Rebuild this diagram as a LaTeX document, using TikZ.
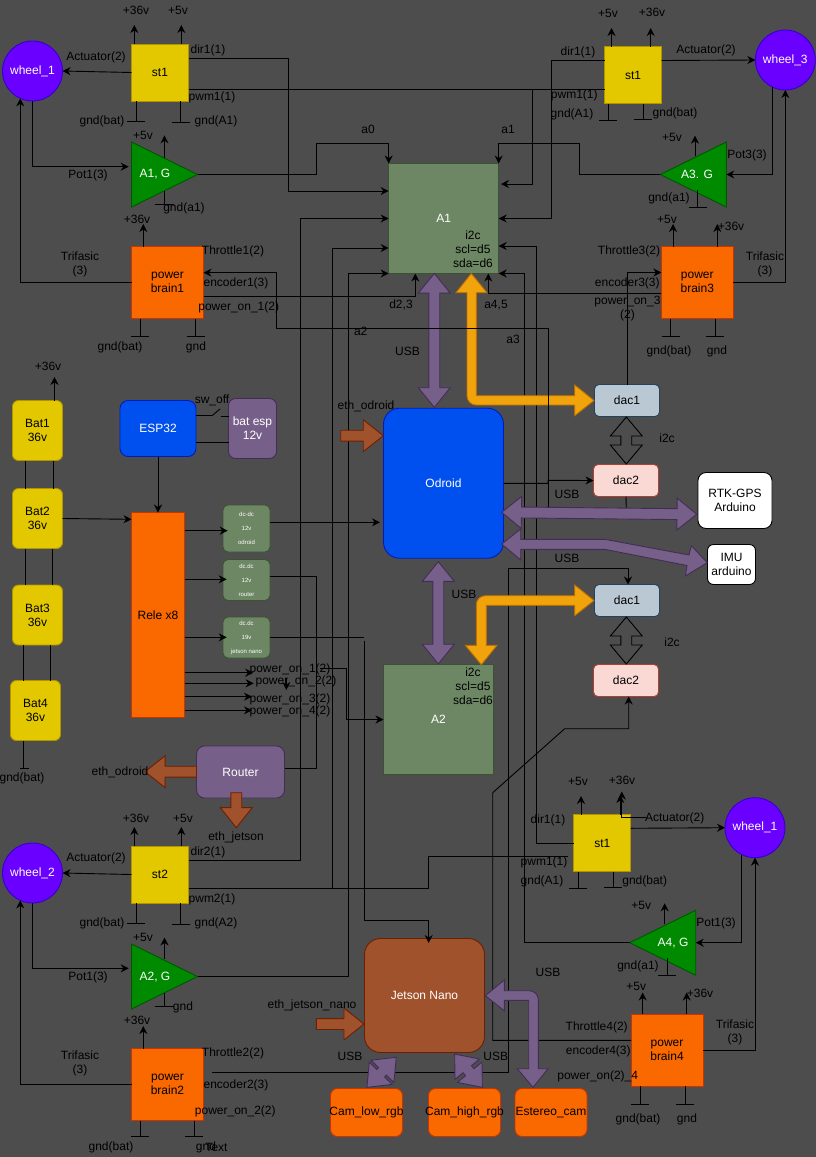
\documentclass[tikz,border=0pt]{standalone}
\usepackage{fontspec}
\setmainfont{Liberation Sans}
\usetikzlibrary{arrows.meta,shapes.geometric,shapes.arrows}
\definecolor{bgcol}{HTML}{4D4D4D}
\definecolor{wheelcol}{HTML}{6A00FF}
\definecolor{wheeledge}{HTML}{3700CC}
\definecolor{yelcol}{HTML}{E3C800}
\definecolor{yeledge}{HTML}{B09500}
\definecolor{grncol}{HTML}{008A00}
\definecolor{grnedge}{HTML}{005700}
\definecolor{orgcol}{HTML}{FA6800}
\definecolor{orgedge}{HTML}{C73500}
\definecolor{sagecol}{HTML}{6D8764}
\definecolor{sageedge}{HTML}{3A5431}
\definecolor{blucol}{HTML}{0050EF}
\definecolor{bluedge}{HTML}{001DBC}
\definecolor{purcol}{HTML}{76608A}
\definecolor{puredge}{HTML}{432D57}
\definecolor{brncol}{HTML}{A0522D}
\definecolor{brnedge}{HTML}{6D1F00}
\definecolor{dacacol}{HTML}{BAC8D3}
\definecolor{dacaedge}{HTML}{23445D}
\definecolor{dacbcol}{HTML}{FAD9D5}
\definecolor{dacbedge}{HTML}{AE4132}
\definecolor{ambcol}{HTML}{F0A30A}
\definecolor{ambedge}{HTML}{BD7000}
\tikzset{
  every node/.style={font=\fontsize{12}{14}\selectfont, inner sep=0pt, outer sep=0pt, align=center},
  wheel/.style={circle, draw=wheeledge, fill=wheelcol, text=white, minimum size=60pt},
  drvbox/.style={draw=yeledge, fill=yelcol, minimum size=57pt},
  pbbox/.style={draw=orgedge, fill=orgcol, minimum size=72pt},
  ampshape/.style={isosceles triangle, isosceles triangle stretches, draw=grnedge, fill=grncol,
    minimum width=65pt, minimum height=66pt, anchor=lower side},
  ctlbox/.style={draw=sageedge, fill=sagecol, text=white, minimum width=110pt, minimum height=110pt},
  batbox/.style={draw=yeledge, fill=yelcol, rounded corners=6pt, minimum width=50pt, minimum height=60pt},
  dcbox/.style={draw=sageedge, fill=sagecol, text=white, rounded corners=5pt, minimum width=47pt,
    font=\fontsize{6}{14}\selectfont},
  bluebox/.style={draw=bluedge, fill=blucol, text=white},
  purbox/.style={draw=puredge, fill=purcol, text=white},
  camsbox/.style={draw=orgedge, fill=orgcol, rounded corners=7pt, minimum width=72pt, minimum height=48pt},
  dacabox/.style={draw=dacaedge, fill=dacacol, rounded corners=4.5pt, minimum width=65pt, minimum height=32pt},
  dacbbox/.style={draw=dacbedge, fill=dacbcol, rounded corners=4.5pt, minimum width=65pt, minimum height=32pt},
  usbarrow/.style={double arrow, draw=puredge, fill=purcol, minimum width=31pt, inner ysep=5pt,
    double arrow head extend=10.5pt, double arrow tip angle=78},
  i2carrow/.style={double arrow, draw=black, minimum width=31pt, inner ysep=5pt,
    double arrow head extend=10.5pt, double arrow tip angle=80, minimum height=47pt},
  etharrow/.style={single arrow, draw=brnedge, fill=brncol, minimum width=31pt, inner ysep=5pt,
    single arrow head extend=10.5pt, single arrow tip angle=77, anchor=tip},
  usbshape/.style={draw=puredge, fill=purcol},
  ambshape/.style={draw=ambedge, fill=ambcol}
}
\begin{document}
\begin{tikzpicture}[x=1pt, y=-1pt, line width=.9pt, >={Stealth[length=8pt,width=8pt]}]
\useasboundingbox (0,0) rectangle (816,1157);
\fill[bgcol] (0,0) rectangle (816,1157);
% boxes
\node[wheel] (wheelA) at (32.5,71) {wheel\_1};
\node[wheel] (wheelB) at (785.3,60) {wheel\_3};
\node[wheel] (wheelC) at (32.5,873) {wheel\_2};
\node[wheel] (wheelD) at (755,827.7) {wheel\_1};
\node[drvbox] (drvA) at (160,72.5) {st1};
\node[drvbox] (drvB) at (633,75) {st1};
\node[drvbox] (drvC) at (160,874.5) {st2};
\node[drvbox] (drvD) at (602.3,843) {st1};
\node[ampshape] (ampA) at (131.5,174.5) {};
\node[ampshape, shape border rotate=180] (ampB) at (726.3,174.5) {};
\node[ampshape] (ampC) at (131.5,976.5) {};
\node[ampshape, shape border rotate=180] (ampD) at (695.7,942.7) {};
\node[pbbox] (pbA) at (167.5,282.5) {power\\brain1};
\node[pbbox] (pbB) at (697.3,282.5) {power\\brain3};
\node[pbbox] (pbC) at (167.5,1084.5) {power\\brain2};
\node[pbbox] (pbD) at (667,1050.3) {power\\brain4};
\node[ctlbox] (ctlA) at (443.7,218.5) {A1};
\node[ctlbox] (ctlB) at (438.5,719.5) {A2};
\node[bluebox, rounded corners=16pt, minimum width=120pt, minimum height=150pt] (odroid) at (443.5,483.2) {Odroid};
\node[draw=brnedge, fill=brncol, text=white, rounded corners=16pt, minimum width=120pt, minimum height=114pt] (jetson) at (424.5,995.5) {Jetson Nano};
\foreach \n/\x/\y/\t in {batA/37.5/430.5/Bat1, batB/37.5/518.5/Bat2, batC/37.5/615/Bat3, batD/35.5/710.5/Bat4}
  \node[batbox] (\n) at (\x,\y) {\t\\36v};
\node[bluebox, rounded corners=8pt, minimum width=76pt, minimum height=56pt] (esp) at (158,428.5) {ESP32};
\node[purbox, rounded corners=7pt, minimum width=48pt, minimum height=60pt] (batesp) at (252.5,428.5) {bat esp\\12v};
\node[draw=orgedge, fill=orgcol, minimum width=53pt, minimum height=205pt] (rele) at (158,615) {Rele x8};
\node[dcbox, minimum height=47pt] (dcA) at (246.5,528.5) {dc-dc\\12v\\odroid};
\node[dcbox, minimum height=41pt] (dcB) at (246.5,580) {dc.dc\\12v\\router};
\node[dcbox, minimum height=41pt] (dcC) at (246.5,637.5) {dc.dc\\19v\\jetson nano};
\node[purbox, rounded corners=8pt, minimum width=88pt, minimum height=52pt] (router) at (240.5,772) {Router};
\node[dacabox] (dacA) at (627,400.5) {dac1};
\node[dacbbox] (dacB) at (626,480.5) {dac2};
\node[dacabox] (dacC) at (627,600.5) {dac1};
\node[dacbbox] (dacD) at (626,680.5) {dac2};
\node[draw=black, fill=white, rounded corners=8pt, minimum width=74pt, minimum height=56pt] (rtk) at (735,500.5) {RTK-GPS\\Arduino};
\node[draw=black, fill=white, rounded corners=6pt, minimum width=48pt, minimum height=40pt] (imu) at (731.5,564.5) {IMU\\arduino};
\node[camsbox] (camA) at (366.5,1112.5) {\makebox[0pt]{Cam\_low\_rgb}};
\node[camsbox] (camB) at (464.5,1112.5) {\makebox[0pt]{Cam\_high\_rgb}};
\node[camsbox] (camC) at (551,1112.5) {\makebox[0pt]{Estereo\_cam}};
\foreach \n/\x/\y/\t in {ampAt/155/174.5/{A1, G}, ampBt/697/174.5/{A3. G}, ampCt/155/976.7/{A2, G}, ampDt/673/942.7/{A4, G}}
  \node[text=white] (\n) at (\x,\y) {\t};
% supply arrows
\foreach \x/\p/\y in {134.3/drvA/25, 181.3/drvA/25, 611.5/drvB/28, 650.7/drvB/28, 134.3/drvC/827, 181.3/drvC/827,
  581/drvD/796, 620.3/drvD/795, 143.3/pbA/224, 673/pbB/224, 717.3/pbB/224, 143.3/pbC/1026, 642.7/pbD/992.5, 686.7/pbD/992.5, 54.5/batA/377}
  \draw[->] (\x,0 |- \p.north) -- (\x,\y);
\draw[->] (164.5,158) -- (164.5,135.3);
\draw[->] (695,156) -- (695,135.7);
\draw[->] (164.5,959) -- (164.5,937.5);
\draw[->] (664.7,924.3) -- (664.7,903.3);
\draw[->] (645.7,817) -| (621.8,791.5);
% ground
\foreach \x/\p/\y in {136.3/drvA/121.3, 180.5/drvA/122, 608.3/drvB/120.3, 643.3/drvB/119.7, 136.3/drvC/923.3, 180.5/drvC/924,
  578/drvD/888.3, 613/drvD/887.7, 140.3/pbA/336.3, 195.7/pbA/336.3, 670.7/pbB/336.3, 715.3/pbB/336.3,
  140.3/pbC/1136.3, 194.3/pbC/1136.3, 640/pbD/1104, 685/pbD/1104}
  \draw (\x,0 |- \p.south) -- (\x,\y) (\x-9,\y) -- (\x+9,\y);
\draw (164.5,191) -- (164.5,204.3) (155.3,204.3) -- (173.5,204.3);
\draw (697,190) -- (697,207.7) (688.5,207.7) -- (706.5,207.7);
\draw (164.5,993) -- (164.5,1006.3) (155.3,1006.3) -- (173.5,1006.3);
\draw (667,958) -- (667,975.5) (658,975.5) -- (676,975.5);
\draw (23,0 |- batD.south) -- (23,768.3) (20.3,768.3) -- (28.7,768.3);
% batteries
\foreach \a/\b/\x/\y in {batA/batB/25/53.3, batB/batC/25/52.3, batC/batD/23.3/50.3}
  {\draw (\x,0 |- \a.south) -- (\x,0 |- \b.north);
   \draw (\y,0 |- \a.south) -- (\y,0 |- \b.north);};
\draw[->] (batB.east) -- (rele.west |- 0,519.3);
\draw[->] (esp.south) -- (rele.north);
\draw (esp.east |- 0,415.5) -- (212.3,415.5) -- (220,409);
\draw (220.7,416.3) -- (batesp.west |- 0,416.3);
\draw (esp.east |- 0,442.3) -- (batesp.west |- 0,442.3);
\foreach \y/\e in {530.7/227.7, 579.3/226.7, 637.3/226.7, 672.7/253.3, 683.3/253.7, 696.7/252, 710.3/252}
  \draw[->] (rele.east |- 0,\y) -- (\e,\y);
\draw[->] (286.3,678) -- (286.3,690);
% top left
\draw[->] (drvA.west) -- (wheelA.east);
\draw[->] (wheelA.south) |- (128.7,166.7);
\draw[->] (pbA.west) -| (wheelA.246);
\draw[->] (ampA.apex) -| (316.3,143.7) -| (ctlA.north west);
\draw[->] (drvA.east |- 0,58.5) -| (288.3,125) |- (ctlA.west |- 0,191);
\draw (drvA.east |- 0,89.5) -- (drvB.west |- 0,89.5);
\draw[->] (532.3,89.5) |- (501,184);
\draw[->] (pbA.east |- 0,296.2) -| (415.3,0 |- ctlA.south);
% top right
\draw[->] (drvB.east |- 0,60.5) -- (wheelB.west);
\draw[->] (wheelB.244) |- (ampB.lower side);
\draw[->] (pbB.east) -| (wheelB.south);
\draw[->] (ampB.apex) -| (579.3,143.7) -| (ctlA.north east);
\draw[->] (drvB.west |- 0,60.5) -| (551.3,100) |- (ctlA.east |- 0,218.5);
\draw[->] (dacA.north) |- (pbB.west |- 0,272.5);
\draw[->] (pbB.west |- 0,293.3) -| (488.3,0 |- ctlA.south);
% long verticals
\draw[->] (ampD.apex) -| (524.5,500) |- (ctlA.south east);
\draw[->] (drvD.west) -| (536.3,500) |- (ctlA.east |- 0,246);
\draw[->] (drvC.east |- 0,860) -| (300.3,500) |- (ctlA.west |- 0,218.5);
\draw (drvC.east |- 0,888.7) -| (428.7,870) |- (567.7,856.3);
\draw[->] (332.5,888.7) |- (ctlA.west |- 0,248);
\draw[->] (ampC.apex) -| (348.5,500) |- (ctlA.south west);
% bottom left
\draw[->] (drvC.west) -- (wheelC.east);
\draw[->] (wheelC.south) |- (128.7,968.3);
\draw[->] (pbC.west) -| (wheelC.246);
% power side
\draw[->] (dcA.east |- 0,522.3) -- (380,522.3);
\draw (dcB.east |- 0,576.3) -| (316.3,700) |- (router.east |- 0,768.3);
\draw (dcC.east |- 0,637.5) -- (364,637.5);
\draw[->] (364.3,640.7) |- (428.7,920.3) -- (428.7,943);
\draw[->] (320,668.3) -| (346.7,700) |- (ctlB.west |- 0,719.5);
% dac lines
\draw[->] (odroid.east |- 0,483.3) -- (548,483.3) -- (548,480.3) -- (dacB.west);
\draw (dacB.south) -- (626.3,510);
\draw[->] (212.3,1072.3) -| (508.7,800) |- (628,568.7) -- (628,0 |- dacC.north);
\draw[->] (pbD.west |- 0,1040.3) -| (492.7,792.7) -- (564.7,728.7) -| (628.7,0 |- dacD.south);
% bottom right
\draw[->] (drvD.east |- 0,828.3) -- (wheelD.west);
\draw[->] (wheelD.244) |- (ampD.lower side);
\draw[->] (pbD.east) -| (wheelD.south);
% thick arrows
\node[usbarrow, rotate=90, minimum height=134pt] (usbA) at (434.3,340.4) {};
\node[usbarrow, rotate=90, minimum height=102.3pt] (usbB) at (438.3,612.8) {};
\node[usbarrow, rotate=45.7, minimum height=42pt] (usbD) at (381.6,1072.3) {};
\node[usbarrow, rotate=-50.3, minimum height=43.3pt] (usbE) at (468.5,1070.7) {};
\node[i2carrow, rotate=90] (i2cA) at (626.3,440.5) {};
\node[i2carrow, rotate=90] (i2cB) at (626.3,640.5) {};
\node[etharrow, minimum height=42.6pt] (ethA) at (383.3,435.7) {};
\node[etharrow, rotate=180, minimum height=51.5pt] (ethB) at (145,771.7) {};
\node[etharrow, rotate=-90, minimum height=35pt] (ethC) at (236.3,827.7) {};
\node[etharrow, minimum height=47.7pt] (ethD) at (364,1024) {};
\draw[ambshape] (471.3,273.5) -- (487,292.7) -- (476.3,292.7) -- (476.3,395.7) -- (574.7,395.7) -- (574.7,385) -- (594,400.5)
  -- (574.7,415.7) -- (574.7,405) [rounded corners=9pt] -- (467,405) [sharp corners] -- (467,292.7) -- (456,292.7) -- cycle;
\draw[ambshape] (594,600.5) -- (574.7,615.7) -- (574.7,605.3) -- (486.3,605.3) -- (486.3,645.3) -- (497,645.3) -- (481.3,664.7)
  -- (465.3,645.3) -- (476.3,645.3) [rounded corners=9pt] -- (476.3,595.7) [sharp corners] -- (574.7,595.7) -- (574.7,585) -- cycle;
% encoder line runs over the amber arrow
\draw[->] (548.3,510) |- (276.3,328.3) |- (pbA.east |- 0,272.7);
\node[usbarrow, rotate=-.6, minimum height=195pt] (usbC) at (599.2,513.3) {};
\draw[usbshape] (501.7,544) -- (520.7,529) -- (520.7,539.3) -- (604.7,539.3) -- (689,555) -- (691.3,545.7) -- (707.3,562.7)
  -- (685.3,576) -- (687,565.5) -- (604.7,549.3) -- (520.7,549.3) -- (520.7,560) -- cycle;
\draw[usbshape] (485.3,995.7) -- (504.3,980) -- (504.3,990.7) [rounded corners=9pt] -- (538.3,990.7) [sharp corners]
  -- (538.3,1068.7) -- (548,1068.7) -- (533,1087.3) -- (517.3,1068.7) -- (528.7,1068.7) -- (528.7,1000.3) -- (504.3,1000.3) -- (504.3,1010.7) -- cycle;
% labels
\foreach \x/\y/\t [count=\i] in {136/10.7/+36v, 178/10.7/+5v, 96/57/Actuator(2), 208/50/dir1(1), 212/97/pwm1(1),
  102/121/gnd(bat), 216/121/gnd(A1), 143/135.7/+5v, 88/175/Pot1(3), 184/208/gnd(a1), 137/219/+36v, 80/264/Trifasic\\(3),
  233/251/Throttle1(2), 236/283/encoder1(3), 238.7/307/power\_on\_1(2), 120/347/gnd(bat), 196/347/gnd,
  368/129/a0, 508/129/a1, 401/305/{d2,3}, 496/305/{a4,5}, 360.7/331/a2, 513/339/a3, 407.5/351/USB,
  473/249/i2c\\scl=d5\\sda=d6, 473/686.7/i2c\\scl=d5\\sda=d6,
  608/13.7/+5v, 652/12.7/+36v, 706/50/Actuator(2), 578/52/dir1(1), 574.3/95/pwm1(1), 572/114/gnd(A1), 675/113/gnd(bat),
  672/137.7/+5v, 747/155/Pot3(3), 669/198/gnd(a1), 667/219/+5v, 731/226/+36v, 629/251/Throttle3(2), 627.3/283/encoder3(3),
  627.5/309/power\_on\_3\\(2), 765/264/Trifasic\\(3), 669/351/gnd(bat), 717/351/gnd,
  48/366.7/+36v, 212/400.7/sw\_off, 366/406.7/eth\_odroid, 22/778.5/gnd(bat), 120/772.7/eth\_odroid,
  290/669/power\_on\_1(2), 296/681/power\_on\_2(2), 290/699/power\_on\_3(2), 290/711/power\_on\_4(2),
  667/438.7/i2c, 672/642.7/i2c, 567/494.3/USB, 567/558.7/USB, 464/594.7/USB,
  236/837.7/eth\_jetson, 136/818.7/+36v, 183/818.7/+5v, 96/858.7/Actuator(2), 208/852/dir2(1), 212/899/pwm2(1),
  102/923/gnd(bat), 216/923/gnd(A2), 143/937.7/+5v, 88/977/Pot1(3), 183/1007/gnd, 137/1020.7/+36v, 80/1063/Trifasic\\(3),
  233/1053/Throttle2(2), 236/1085/encoder2(3), 235.3/1111/power\_on\_2(2), 111/1147/gnd(bat), 206/1147/gnd, 216.5/1147/Text,
  312/1005/eth\_jetson\_nano, 350/1056.7/USB, 495.7/1056.7/USB, 548/972.7/USB,
  578/781.7/+5v, 622/780.7/+36v, 674.7/818/Actuator(2), 548/820/dir1(1), 544/862.7/pwm1(1), 542/881.7/gnd(A1), 644.7/881/gnd(bat),
  641.3/905.7/+5v, 716/923/Pot1(3), 638/966/gnd(a1), 636.3/986.7/+5v, 700/993.7/+36v,
  596.7/1027/Throttle4(2), 598.3/1051/encoder4(3), 597.7/1076.7/power\_on(2)\_4, 735/1032/Trifasic\\(3), 638/1119/gnd(bat), 687/1119/gnd}
  \node (lbl\i) at (\x,\y) {\t};
\end{tikzpicture}
\end{document}
